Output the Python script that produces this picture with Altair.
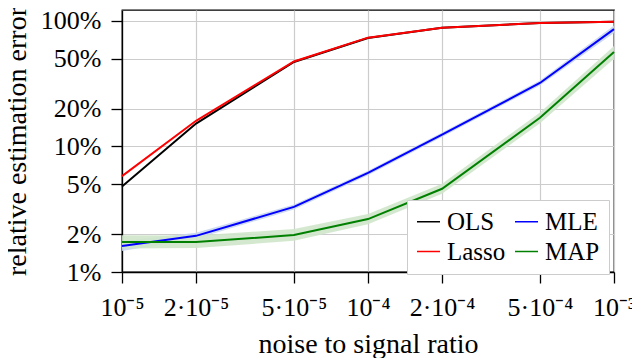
import altair as alt
import pandas as pd

# ---- data ----
noise = [1e-5, 2e-5, 5e-5, 1e-4, 2e-4, 5e-4, 1e-3]
x_tick_labels = ["10⁻⁵", "2·10⁻⁵", "5·10⁻⁵", "10⁻⁴", "2·10⁻⁴", "5·10⁻⁴", "10⁻³"]
y_ticks = [0.01, 0.02, 0.05, 0.1, 0.2, 0.5, 1.0]

ols = [4.8, 15.2, 47.0, 73.0, 88.0, 96.0, 98.5]
lasso = [5.8, 16.0, 47.5, 73.5, 88.0, 96.0, 98.5]
mle = [1.61, 1.94, 3.3, 6.15, 12.4, 32.0, 86.0]
mle_lo = [1.47, 1.84, 3.15, 5.9, 11.9, 30.5, 80.0]
mle_hi = [1.76, 2.05, 3.45, 6.4, 12.9, 33.5, 92.0]
map_ = [1.73, 1.73, 1.97, 2.64, 4.6, 16.9, 56.6]
map_lo = [1.54, 1.55, 1.77, 2.4, 4.2, 15.3, 50.0]
map_hi = [1.96, 1.95, 2.2, 2.9, 5.05, 18.6, 63.0]

# legend fills column by column: OLS, Lasso | MLE, MAP
series_order = ["OLS", "Lasso", "MLE", "MAP"]
series_colors = ["#000000", "#ff0000", "#0000ff", "#008000"]

rows = []
for name, vals, lo, hi in [
    ("OLS", ols, ols, ols),
    ("MLE", mle, mle_lo, mle_hi),
    ("Lasso", lasso, lasso, lasso),
    ("MAP", map_, map_lo, map_hi),
]:
    for x, v, l, h in zip(noise, vals, lo, hi):
        rows.append({"x": x, "series": name, "value": v / 100, "lo": l / 100, "hi": h / 100})
df = pd.DataFrame(rows)

# label expression for the x axis built from the tick list
expr = "''"
for v, lab in reversed(list(zip(noise, x_tick_labels))):
    expr = f"(datum.value < {v * 1.05}) ? '{lab}' : ({expr})"

FONT = "Liberation Serif"

xenc = alt.X(
    "x:Q",
    scale=alt.Scale(type="log", domain=[1e-5, 1e-3], nice=False),
    axis=alt.Axis(values=noise, labelExpr=expr, title="noise to signal ratio",
                  labelFont=FONT, labelFontSize=26, titleFont=FONT, titleFontSize=28,
                  labelPadding=11, titlePadding=10, labelFlush=False),
)
yscale = alt.Scale(type="log", domain=[0.01, 1.22], nice=False)
yenc = alt.Y(
    "value:Q",
    scale=yscale,
    axis=alt.Axis(values=y_ticks, format=".0%", title="relative estimation error",
                  labelFont=FONT, labelFontSize=26, titleFont=FONT, titleFontSize=28,
                  labelPadding=10, titlePadding=9),
)

color = alt.Color(
    "series:N",
    scale=alt.Scale(domain=series_order, range=series_colors),
    legend=alt.Legend(
        title=None, orient="none", legendX=285, legendY=190, columns=2,
        fillColor="white", strokeColor="#cccccc", padding=9,
        rowPadding=4, columnPadding=6, labelFont=FONT, labelFontSize=25,
        labelColor="black", symbolType="stroke", symbolSize=529,
        symbolStrokeWidth=1.5, labelOffset=6, labelLimit=200,
    ),
)

base = alt.Chart(df)

band_mle = base.transform_filter(alt.datum.series == "MLE").mark_area(
    color="#c8d5f0", opacity=0.9
).encode(x=xenc, y=alt.Y("lo:Q", scale=yscale), y2="hi:Q")
band_map = base.transform_filter(alt.datum.series == "MAP").mark_area(
    color="#cfe5ca", opacity=0.9
).encode(x=xenc, y=alt.Y("lo:Q", scale=yscale), y2="hi:Q")

lines = []
for name in ["OLS", "MLE", "Lasso", "MAP"]:
    lines.append(
        base.transform_filter(alt.datum.series == name)
        .mark_line(strokeWidth=2)
        .encode(x=xenc, y=yenc, color=color)
    )

chart = alt.layer(band_mle, band_map, *lines).properties(
    width=492,
    height=262,
    autosize=alt.AutoSizeParams(type="none"),
    padding={"left": 114, "top": 2, "right": 18, "bottom": 86},
).configure_view(
    stroke="black", strokeWidth=1.3
).configure_axis(
    labelFont=FONT, titleFont=FONT, labelFontSize=26, titleFontSize=28,
    titleFontWeight="normal", labelColor="black", titleColor="black",
    gridColor="#cccccc", gridWidth=1.2, domainColor="black", domainWidth=1.3,
    tickColor="black", tickSize=11, tickWidth=1.3,
)

chart.save("out.html", embed_options={"renderer": "svg", "actions": False})
